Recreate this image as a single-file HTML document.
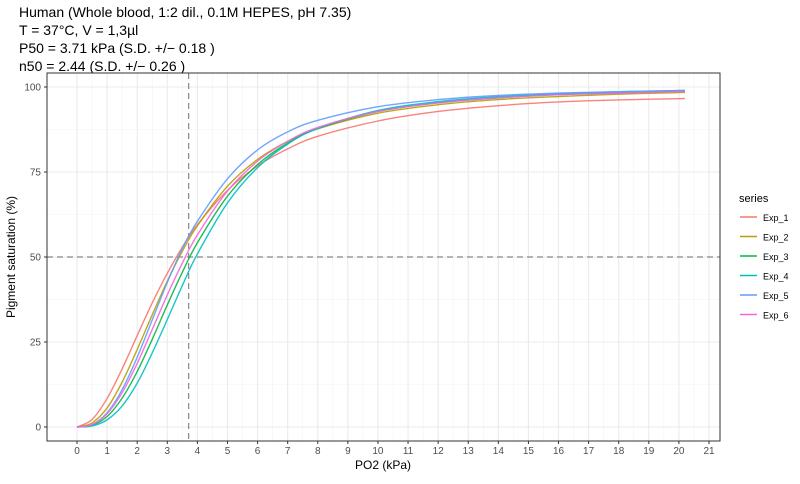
<!DOCTYPE html>
<html><head><meta charset="utf-8"><style>
body{margin:0;background:#fff;font-family:"Liberation Sans",sans-serif;}
svg text{font-family:"Liberation Sans",sans-serif;}
</style></head><body>
<svg id="chart" width="800" height="479">
<g font-size="14" fill="#000">
<text x="19" y="17">Human (Whole blood, 1:2 dil., 0.1M HEPES, pH 7.35)</text>
<text x="19" y="35">T = 37°C, V = 1,3µl</text>
<text x="19" y="53">P50 = 3.71 kPa (S.D. +/− 0.18 )</text>
<text x="19" y="71">n50 = 2.44 (S.D. +/− 0.26 )</text>
</g>
<g id="grid"></g>
<g id="refs"></g>
<g id="series"></g>
<rect x="47" y="73" width="673" height="368" fill="none" stroke="#333" stroke-width="1"/>
<g id="axes" font-size="10" fill="#4d4d4d"></g>
<text x="383" y="469" text-anchor="middle" font-size="12">PO2 (kPa)</text>
<text transform="translate(15,257) rotate(-90)" text-anchor="middle" font-size="12">Pigment saturation (%)</text>
<g id="legend">
<text x="739" y="202" font-size="11">series</text>
</g>
</svg>
<script>
const xs = [0,0.5,1,1.5,2,2.5,3,3.5,4,5,6,7,8,10,12,14,16,18,20.2];
const seriesNames = ["Exp_1","Exp_2","Exp_3","Exp_4","Exp_5","Exp_6"];
const exp1 = [0,2.2,8.4,17.1,26.9,36.5,45.2,52.9,59.5,69.6,76.8,81.8,85.5,90.0,92.8,94.5,95.6,96.2,96.6];
const exp2 = [0,1.2,5.6,13.2,22.8,33.0,42.9,51.7,59.2,70.8,78.7,84.0,87.7,92.3,94.8,96.3,97.2,97.9,98.4];
const exp3 = [0,0.5,3.1,8.5,16.3,25.8,35.9,45.5,54.2,67.9,77.2,83.5,87.8,92.8,95.4,96.8,97.8,98.3,98.8];
const exp4 = [0,0.3,2.1,6.2,12.9,21.8,31.6,41.6,50.9,65.9,76.3,83.2,87.8,93.1,95.7,97.2,98.0,98.6,99.0];
const exp5 = [0,0.7,4.2,11.0,20.5,31.5,42.5,52.5,60.5,73.0,81.5,86.8,90.2,94.2,96.3,97.5,98.2,98.6,99.0];
const exp6 = [0,0.7,3.9,10.1,18.7,28.7,38.8,48.2,56.5,69.4,78.2,84.0,88.1,92.8,95.3,96.8,97.7,98.2,98.7];
const seriesValues = [exp1,exp2,exp3,exp4,exp5,exp6];
const colors = ["#F8766D","#B79F00","#00BA38","#00BFC4","#619CFF","#F564E3"];
const xTicks = [0,1,2,3,4,5,6,7,8,9,10,11,12,13,14,15,16,17,18,19,20,21];
const yTicks = [0,25,50,75,100];
const p50 = 3.71;
const hLine = 50;

const NS="http://www.w3.org/2000/svg";
const X = v => 77 + v*(709-77)/21;
const Y = v => 427 - v*3.4;
function mk(tag, attrs, parent){const e=document.createElementNS(NS,tag);for(const k in attrs)e.setAttribute(k,attrs[k]);parent.appendChild(e);return e;}
const grid=document.getElementById('grid'), axes=document.getElementById('axes');
const T=73,B=441;
mk('rect',{x:47,y:T,width:673,height:B-T,fill:'#fff'},grid);
for(let i=0;i<xTicks.length-1;i++){const v=(xTicks[i]+xTicks[i+1])/2;const l=mk('line',{x1:X(v),x2:X(v),y1:T,y2:B,stroke:'#f3f3f3','stroke-width':0.6},grid);
}
for(let i=0;i<yTicks.length-1;i++){const v=(yTicks[i]+yTicks[i+1])/2;const l=mk('line',{x1:47,x2:720,y1:Y(v),y2:Y(v),stroke:'#f3f3f3','stroke-width':0.6},grid);
}
xTicks.forEach(v=>{const l=mk('line',{x1:X(v),x2:X(v),y1:T,y2:B,stroke:'#ebebeb','stroke-width':1.1},grid);

const t=mk('line',{x1:X(v),x2:X(v),y1:B,y2:B+3,stroke:'#333'},axes);

const tx=mk('text',{x:X(v),y:454,'text-anchor':'middle'},axes);tx.textContent=v;
});
yTicks.forEach(v=>{const l=mk('line',{x1:47,x2:720,y1:Y(v),y2:Y(v),stroke:'#ebebeb','stroke-width':1.1},grid);

const t=mk('line',{x1:44,x2:47,y1:Y(v),y2:Y(v),stroke:'#333'},axes);

const tx=mk('text',{x:41,y:Y(v)+3.5,'text-anchor':'end'},axes);tx.textContent=v;
});
const refs=document.getElementById('refs');
const vl=mk('line',{x1:X(p50),x2:X(p50),y1:T,y2:B,stroke:'#888','stroke-dasharray':'6,4','stroke-width':1.2},refs);

const hl=mk('line',{x1:47,x2:720,y1:Y(hLine),y2:Y(hLine),stroke:'#888','stroke-dasharray':'6,4','stroke-width':1.2},refs);

function pathFor(vals){const p=xs.map((x,i)=>[X(x),Y(vals[i])]);let d=`M${p[0][0]},${p[0][1]}`;
for(let i=0;i<p.length-1;i++){const p0=p[Math.max(0,i-1)],p1=p[i],p2=p[i+1],p3=p[Math.min(p.length-1,i+2)];
const c1=[p1[0]+(p2[0]-p0[0])/6,p1[1]+(p2[1]-p0[1])/6],c2=[p2[0]-(p3[0]-p1[0])/6,p2[1]-(p3[1]-p1[1])/6];
d+=` C${c1[0]},${c1[1]} ${c2[0]},${c2[1]} ${p2[0]},${p2[1]}`;}return d;}
const sg=document.getElementById('series'), lg=document.getElementById('legend');
seriesValues.forEach((vals,i)=>{const p=mk('path',{d:pathFor(vals),fill:'none',stroke:colors[i],'stroke-width':1.4,'stroke-opacity':0.9},sg);

const y=221+i*19.5;
const g=mk('g',{},lg);
mk('line',{x1:740,x2:757,y1:y-4,y2:y-4,stroke:colors[i],'stroke-width':1.4},g);
const t=mk('text',{x:763,y:y,'font-size':9,fill:'#000'},g);t.textContent=seriesNames[i];});
</script>
</body></html>
